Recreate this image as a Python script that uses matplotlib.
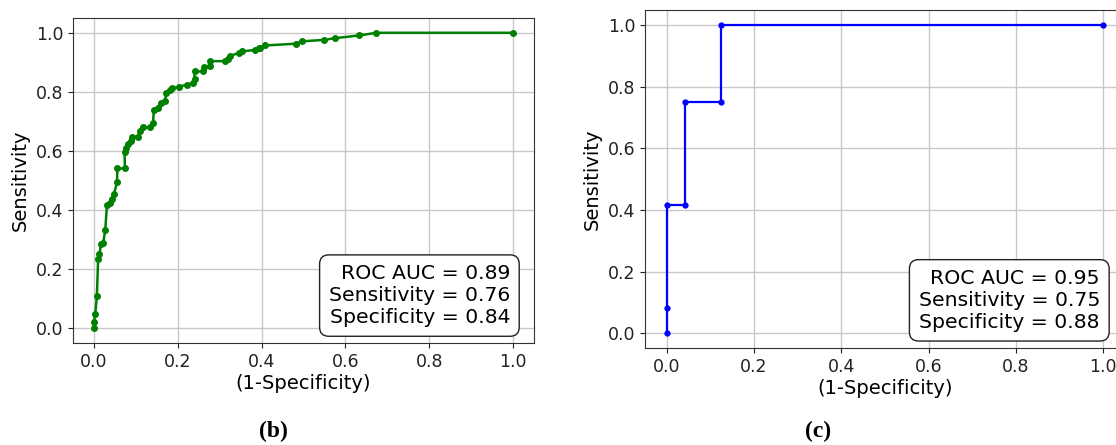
import matplotlib
matplotlib.use("Agg")
import matplotlib.pyplot as plt

# (b) ROC points
fpr_b = [0.0, 0.0, 0.003, 0.007, 0.010, 0.013, 0.017, 0.022, 0.027, 0.031,
         0.038, 0.043, 0.048, 0.055, 0.056, 0.074, 0.073, 0.077, 0.081, 0.088,
         0.090, 0.105, 0.109, 0.116, 0.133, 0.141, 0.143, 0.152, 0.159, 0.169,
         0.173, 0.181, 0.187, 0.203, 0.222, 0.236, 0.240, 0.240, 0.260, 0.262,
         0.278, 0.278, 0.313, 0.319, 0.324, 0.345, 0.353, 0.385, 0.393, 0.397,
         0.407, 0.481, 0.496, 0.549, 0.576, 0.633, 0.674, 1.0]
tpr_b = [0.0, 0.020, 0.047, 0.108, 0.234, 0.250, 0.285, 0.289, 0.332, 0.417,
         0.423, 0.436, 0.455, 0.494, 0.541, 0.541, 0.596, 0.611, 0.624, 0.635,
         0.648, 0.648, 0.668, 0.680, 0.680, 0.696, 0.739, 0.745, 0.764, 0.769,
         0.796, 0.807, 0.812, 0.818, 0.824, 0.829, 0.843, 0.869, 0.869, 0.884,
         0.887, 0.904, 0.904, 0.911, 0.922, 0.931, 0.937, 0.942, 0.948, 0.950,
         0.957, 0.963, 0.971, 0.976, 0.982, 0.991, 1.0, 1.0]

# (c) ROC points
fpr_c = [0.0, 0.0, 0.0, 0.042, 0.042, 0.125, 0.125, 1.0]
tpr_c = [0.0, 0.083, 0.417, 0.417, 0.75, 0.75, 1.0, 1.0]

stats_b = ["ROC AUC = 0.89", "Sensitivity = 0.76", "Specificity = 0.84"]
stats_c = ["ROC AUC = 0.95", "Sensitivity = 0.75", "Specificity = 0.88"]
ticks = [0.0, 0.2, 0.4, 0.6, 0.8, 1.0]

fig = plt.figure(figsize=(11.16, 4.45), dpi=100)
ax1 = fig.add_axes([0.0654, 0.2292, 0.4131, 0.7303])
ax2 = fig.add_axes([0.578, 0.217, 0.430, 0.7607])

ax1.plot(fpr_b, tpr_b, color="green", lw=1.8, marker="o", ms=4)
ax2.plot(fpr_c, tpr_c, color="blue", lw=1.6, marker="o", ms=3.5)

for ax, stats in [(ax1, stats_b), (ax2, stats_c)]:
    ax.set_xlim(-0.05, 1.05)
    ax.set_ylim(-0.05, 1.05)
    ax.set_xticks(ticks)
    ax.set_yticks(ticks)
    ax.grid(True, color="#c8c8c8", lw=1)
    ax.set_axisbelow(True)
    ax.tick_params(labelsize=12.5, colors="#222222")
    for s in ax.spines.values():
        s.set_color("#333333")
    ax.set_xlabel("(1-Specificity)", fontsize=14, labelpad=2)
    ax.set_ylabel("Sensitivity", fontsize=14, labelpad=4)
    ax.text(0.948, 0.049, "\n".join(stats), transform=ax.transAxes,
            ha="right", va="bottom", fontsize=14.7, multialignment="right",
            linespacing=1.2,
            bbox=dict(boxstyle="round,pad=0.45", fc="white", ec="#222222", lw=1))

fig.text(273 / 1116, 1 - 431 / 445, "(b)", ha="center", va="center",
         fontsize=17, fontweight="bold", family="Liberation Serif")
fig.text(818 / 1116, 1 - 431 / 445, "(c)", ha="center", va="center",
         fontsize=17, fontweight="bold", family="Liberation Serif")

fig.savefig("out.png", dpi=100)
